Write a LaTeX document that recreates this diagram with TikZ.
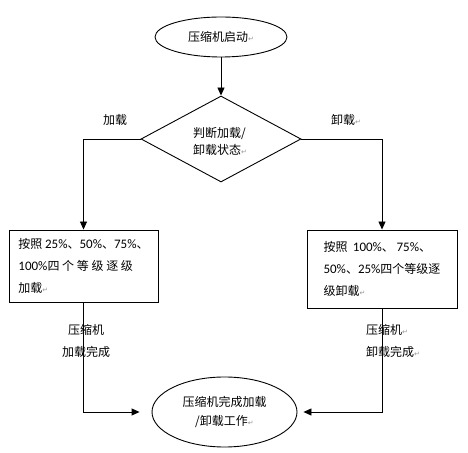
\documentclass[tikz,border=0pt]{standalone}
\usepackage{fontspec}
\setmainfont{Noto Sans CJK SC}
\newfontfamily\numfont{Carlito}
\newfontfamily\dejavu{DejaVu Sans}
\usepackage{xcolor}
\definecolor{pmgray}{RGB}{150,150,150}
\usetikzlibrary{arrows.meta, positioning, shapes.geometric}

\newcommand{\pmark}{{\dejavu\fontsize{7}{7}\selectfont\color{pmgray}↵}}
\newcommand{\nm}[1]{{\numfont\fontsize{13}{13}\selectfont #1}}

\tikzset{
  flow/.style={line width=0.9pt, -{Triangle[length=8pt,width=7pt]}},
  startend/.style={ellipse, draw, line width=0.9pt, inner sep=0pt, align=center},
  decision/.style={diamond, draw, line width=0.9pt, inner sep=0pt},
  procbox/.style={rectangle, draw, line width=0.9pt, inner sep=0pt, align=left},
  txt/.style={font=\fontsize{12}{22}\selectfont, inner sep=0pt}
}

\begin{document}
\begin{tikzpicture}[x=1pt, y=1pt]
  \useasboundingbox (0,0) rectangle (468,452);

  % --- main shapes ---
  \node[startend, txt, minimum width=132pt, minimum height=40pt] (start) at (221,415) {压缩机启动\pmark};
  \node[decision, minimum width=160pt, minimum height=86pt] (judge) at (221,313) {};
  \node[txt, align=left, font=\fontsize{12}{17}\selectfont] (judgetxt) at (220,310.5) {判断加载/\\卸载状态\pmark};

  \node[procbox, txt, minimum width=149pt, minimum height=72pt] (loadbox) at (83.5,186)
    {按照 \nm{25\%}、\nm{50\%}、\nm{75\%}、\\\nm{100\%}四 个 等 级 逐 级\\加载\pmark};
  \node[procbox, txt, minimum width=150pt, minimum height=78pt] (unloadbox) at (382,183)
    {按照 \ \nm{100\%}、 \nm{75\%}、\\\nm{50\%}、\nm{25\%}四个等级逐\\级卸载\pmark};

  \node[startend, txt, font=\fontsize{12}{19}\selectfont, minimum width=145pt, minimum height=70pt] (finish) at (224.5,40)
    {压缩机完成加载\\/卸载工作\pmark};

  % --- connectors ---
  \draw[flow] (start) -- (judge);
  \draw[flow] (judge.west) -| (loadbox.north);
  \draw[flow] (judge.east) -| (unloadbox.north);
  \draw[flow, shorten >=12pt] (loadbox.south) |- (finish.west);
  \draw[flow, shorten >=6pt] (unloadbox.south) |- (finish.east);

  % --- branch labels ---
  \node[txt] (loadlbl) at (115,332) {加载};
  \node[txt, anchor=west] (unloadlbl) at (331,332) {卸载\pmark};
  \node[txt, align=center] (loaddone) at (86,111) {压缩机\\加载完成};
  \node[txt, align=left, anchor=west] (unloaddone) at (366,111) {压缩机\pmark\\卸载完成\pmark};
\end{tikzpicture}
\end{document}
